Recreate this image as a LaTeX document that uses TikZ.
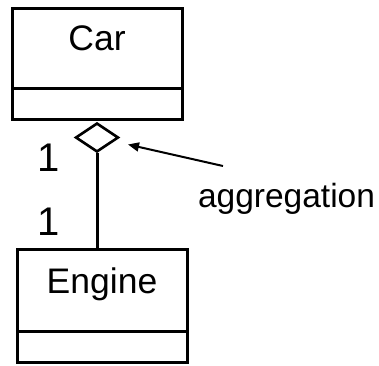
\documentclass[tikz,border=0pt]{standalone}
\usepackage{fontspec}
\setmainfont{Liberation Sans}
\usetikzlibrary{shapes.geometric,arrows.meta}
\begin{document}
\begin{tikzpicture}[x=1pt,y=-1pt,
  classbox/.style={draw,line width=3pt,minimum width=170pt,inner sep=0pt},
  title/.style={anchor=base,inner sep=0pt,font=\fontsize{35.5}{42}\selectfont},
  mult/.style={inner sep=0pt,font=\fontsize{40}{48}\selectfont},
  note/.style={inner sep=0pt,font=\fontsize{33.5}{40}\selectfont},
  agg/.style={draw,diamond,line width=2.6pt,minimum width=43pt,minimum height=29pt,inner sep=0pt},
  link/.style={line width=3pt},
  pointer/.style={line width=2pt,-{Triangle[length=11pt,width=9pt]}}]
\useasboundingbox (0,0) rectangle (379,365);
% Car
\node[classbox,minimum height=111pt] (car) at (97,63.5) {};
\draw[line width=3pt] (12,88) -- (182,88);
\node[title] (cartitle) at (97,50) {Car};
% Engine
\node[classbox,minimum height=113pt] (engine) at (102,305.5) {};
\draw[line width=3pt] (17,331) -- (187,331);
\node[title] (enginetitle) at (102,293) {Engine};
% aggregation diamond
\node[agg] (dia) at (97,137.5) {};
\draw[link] (dia.south) -- (engine.north -| dia.south);
% multiplicities
\node[mult] (m1) at (49,157.5) {1};
\node[mult] (m2) at (49,221.5) {1};
% note
\coordinate (tail) at (223,166);
\coordinate (tip) at (128,144.5);
\draw[pointer] (tail) -- (tip);
\node[note] (label) at (286.5,199) {aggregation};
\end{tikzpicture}
\end{document}
